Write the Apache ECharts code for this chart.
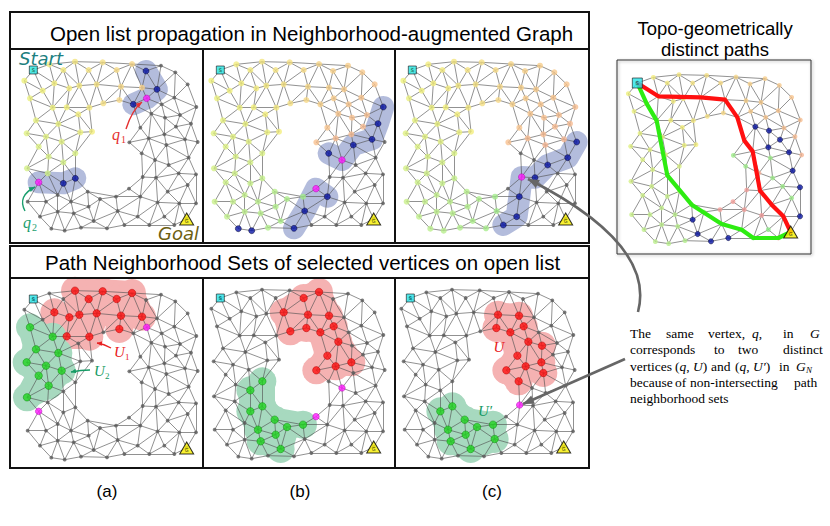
<!DOCTYPE html>
<html>
<head>
<meta charset="utf-8">
<script src="https://cdn.jsdelivr.net/npm/echarts/dist/echarts.min.js"></script>
<style>
  html, body { margin: 0; background: #fff; }
  #chart { width: 830px; height: 526px; }
</style>
</head>
<body>
<div id="chart"></div>
<script>
// vertices of the graph G (panel units, x right / y down)
const nodePos = [
  [70,75],[118,58],[160,75],[195,50],[236,75],[278,52],[320,75],[366,57],[408,78],[453,62],
  [496,82],[533,118],[43,107],[98,137],[133,115],[178,130],[208,122],[260,118],[333,125],[396,128],
  [441,133],[493,158],[60,160],[128,188],[170,187],[238,188],[280,175],[328,165],[370,178],[410,160],
  [455,178],[559,186],[205,208],[78,226],[145,237],[246,260],[211,262],[50,265],[108,275],[155,290],
  [424,206],[465,218],[510,210],[543,236],[391,248],[498,245],[463,268],[416,280],[358,292],[525,283],
  [469,300],[196,325],[86,305],[116,335],[160,352],[51,370],[113,385],[86,412],[160,415],[196,400],
  [395,325],[435,345],[476,360],[536,338],[506,385],[558,388],[438,398],[357,431],[533,420],[473,440],
  [233,440],[53,470],[108,470],[143,450],[183,470],[270,462],[318,455],[391,455],[90,515],[143,500],
  [191,505],[236,485],[323,498],[443,472],[508,475],[558,475],[383,515],[463,515],[124,551],[164,557],
  [213,548],[251,528],[291,550],[343,540],[418,540],[493,540],[530,522],[398,396],[563,291]
];
const startNode = 0;
const goalNode = 96;

// open list panels (top row): frontier vertices, selected vertices, blurred frontier bands, reached angle range
const frontierA = [8, 20, 28, 58, 59];
const pickedA = [29, 57];
const bandsA = [[28, 29, 20, 8], [57, 58, 59]];
const reachA = [-66, 68];

const frontierB = [60, 50, 49, 43, 31, 77, 82, 92, 88, 89];
const pickedB = [61, 67];
const bandsB = [[60, 61, 50, 49, 43, 31], [77, 67, 82, 92]];
const reachB = [-148, 115];

const frontierC = [98, 63, 62, 66, 77, 86, 93];
const pickedC = [97];
const bandsC = [[98, 63, 62, 66, 97, 77, 86, 93]];
const reachC = [-148, 123];

// path neighborhood sets (bottom row)
const redSetA = [3, 4, 5, 6, 7, 14, 15, 16, 17, 18, 19, 24, 25, 27];
const greenSetA = [22, 23, 33, 34, 37, 38, 39, 52, 53, 55];
const redSetB = [6, 7, 17, 18, 19, 26, 27, 28, 29, 40, 44, 47, 46, 48];
const greenSetB = [51, 54, 58, 59, 70, 74, 81, 80, 91, 75, 76];
const redSetC = [18, 19, 27, 28, 29, 40, 41, 44, 47, 46, 50, 48, 60];
const greenSetC = [58, 59, 70, 74, 81, 80, 91, 75, 76, 82];

// right panel: two distinct paths
const redPath = [0, 14, 17, 18, 28, 44, 47, 66, 69, 84, 96];
const greenPath = [0, 13, 23, 54, 70, 82, 86, 94, 95, 96];
const frontierR = [40, 41, 45, 46, 49, 63, 65, 85, 81, 91, 92, 93];
const greenR = [48, 60, 50, 62, 64, 68];
const pinkR = [67, 76, 77, 97];

const SANS = "'Liberation Sans', Arial, sans-serif";
const SERIF = "'Liberation Serif', 'Times New Roman', serif";
const DEJA = "'DejaVu Sans', sans-serif";

// Delaunay triangulation of the vertices, long edges dropped (the hole and the hull)
function triangulate(pts, maxLen) {
  const P = pts.slice();
  const n = P.length;
  P.push([-3000, -3000], [3000, -3000], [0, 3000]);
  let tris = [[n, n + 1, n + 2]];
  const inCirc = (t, x, y) => {
    const [ax, ay] = P[t[0]], [bx, by] = P[t[1]], [cx, cy] = P[t[2]];
    const d = 2 * (ax * (by - cy) + bx * (cy - ay) + cx * (ay - by));
    const a2 = ax * ax + ay * ay, b2 = bx * bx + by * by, c2 = cx * cx + cy * cy;
    const ux = (a2 * (by - cy) + b2 * (cy - ay) + c2 * (ay - by)) / d;
    const uy = (a2 * (cx - bx) + b2 * (ax - cx) + c2 * (bx - ax)) / d;
    return (x - ux) ** 2 + (y - uy) ** 2 < (ax - ux) ** 2 + (ay - uy) ** 2;
  };
  for (let i = 0; i < n; i++) {
    const [x, y] = P[i];
    const bad = [], keep = [];
    tris.forEach(t => (inCirc(t, x, y) ? bad : keep).push(t));
    const cnt = {};
    bad.forEach(t => {
      [[t[0], t[1]], [t[1], t[2]], [t[2], t[0]]].forEach(([a, b]) => {
        const k = a < b ? a + ',' + b : b + ',' + a;
        cnt[k] = (cnt[k] || 0) + 1;
      });
    });
    tris = keep;
    Object.keys(cnt).forEach(k => {
      if (cnt[k] === 1) {
        const [a, b] = k.split(',').map(Number);
        tris.push([a, b, i]);
      }
    });
  }
  const seen = {}, out = [];
  tris.forEach(t => {
    [[t[0], t[1]], [t[1], t[2]], [t[2], t[0]]].forEach(([a, b]) => {
      if (a >= n || b >= n) return;
      const k = a < b ? a + ',' + b : b + ',' + a;
      if (seen[k]) return;
      seen[k] = true;
      const len = Math.hypot(P[a][0] - P[b][0], P[a][1] - P[b][1]);
      if (len <= maxLen) out.push([a, b]);
    });
  });
  return out;
}
const edges = triangulate(nodePos, 90);

// colour of a reached vertex: angle swept around the hole from the start
const hole = [300, 330];
const startAng = Math.atan2(nodePos[startNode][1] - hole[1], nodePos[startNode][0] - hole[0]);
function progress(i) {
  let a = (Math.atan2(nodePos[i][1] - hole[1], nodePos[i][0] - hole[0]) - startAng) * 180 / Math.PI;
  while (a > 180) a -= 360;
  while (a <= -180) a += 360;
  return a;
}
const ramp = ['#8ee88a', '#c2f08e', '#f2f07c', '#f7c48f', '#f29c9c'];
function rampColor(p) {
  return echarts.color.lerp(Math.max(0, Math.min(1, (p + 180) / 360)), ramp);
}

const panels = [
  { left: 10, top: 45, kind: 'open', frontier: frontierA, picked: pickedA, bands: bandsA, reach: reachA },
  { left: 197, top: 45, kind: 'open', frontier: frontierB, picked: pickedB, bands: bandsB, reach: reachB },
  { left: 389, top: 45, kind: 'open', frontier: frontierC, picked: pickedC, bands: bandsC, reach: reachC },
  { left: 10, top: 274, kind: 'sets', red: redSetA, green: greenSetA, picked: pickedA },
  { left: 197, top: 273, kind: 'sets', red: redSetB, green: greenSetB, picked: pickedB },
  { left: 387, top: 273, kind: 'sets', red: redSetC, green: greenSetC, picked: pickedC },
  { left: 614, top: 58, kind: 'paths', frontier: frontierR }
];

function dot(pos, size, color, border) {
  return { value: pos, symbolSize: size,
    itemStyle: { color: color, borderColor: border || color, borderWidth: border ? 0.6 : 0 } };
}
function nodeItem(pn, i) {
  const pos = nodePos[i];
  if (pn.kind === 'open') {
    if (pn.picked.includes(i)) return dot(pos, 6.5, '#ff1cff', '#b000b0');
    if (pn.frontier.includes(i)) return dot(pos, 6, '#0b18a8', '#000030');
    const p = progress(i);
    if (p >= pn.reach[0] && p <= pn.reach[1]) return dot(pos, 6, rampColor(p));
    return dot(pos, 3.8, '#5c5c5c');
  }
  if (pn.kind === 'sets') {
    if (pn.picked.includes(i)) return dot(pos, 6.5, '#ff1cff', '#b000b0');
    if (pn.red.includes(i)) return dot(pos, 7.5, '#ff1010', '#b00000');
    if (pn.green.includes(i)) return dot(pos, 7.5, '#22d422', '#0a8a0a');
    return dot(pos, 3.8, '#5c5c5c');
  }
  if (pn.frontier.includes(i)) return dot(pos, 5.2, '#0b18a8', '#000030');
  let p = progress(i);
  if (greenR.includes(i)) p = -150;
  if (pinkR.includes(i)) p = 170;
  return dot(pos, 4.8, rampColor(p));
}

const grid = [], xAxis = [], yAxis = [], series = [];
panels.forEach((pn, k) => {
  grid.push({ left: pn.left, top: pn.top, width: 195, height: 200 });
  xAxis.push({ gridIndex: k, type: 'value', min: 0, max: 585, show: false });
  yAxis.push({ gridIndex: k, type: 'value', min: 0, max: 600, inverse: true, show: false });
  const ax = { coordinateSystem: 'cartesian2d', xAxisIndex: k, yAxisIndex: k, silent: true };

  if (pn.kind === 'open') {
    pn.bands.forEach(b => {
      series.push(Object.assign({ type: 'lines', polyline: true, z: 1,
        data: [{ coords: b.map(i => nodePos[i]) }],
        lineStyle: { color: '#b3bcdc', width: 22, cap: 'round', join: 'round', opacity: 1 } }, ax));
    });
  } else if (pn.kind === 'sets') {
    [[pn.red, '#f5b2b2'], [pn.green, '#a7d9bf']].forEach(([set, col]) => {
      series.push(Object.assign({ type: 'lines', z: 1,
        data: edges.filter(([a, b]) => set.includes(a) && set.includes(b))
          .map(([a, b]) => ({ coords: [nodePos[a], nodePos[b]] })),
        lineStyle: { color: col, width: 24, cap: 'round', opacity: 1 } }, ax));
      series.push(Object.assign({ type: 'scatter', z: 1, symbolSize: 28,
        itemStyle: { color: col, opacity: 1 }, data: set.map(i => nodePos[i]) }, ax));
    });
  }

  series.push(Object.assign({ type: 'lines', z: 2,
    data: edges.map(([a, b]) => ({ coords: [nodePos[a], nodePos[b]] })),
    lineStyle: { color: '#505050', width: 0.7, opacity: 0.9 } }, ax));

  series.push(Object.assign({ type: 'scatter', z: 4,
    data: nodePos.map((p, i) => nodeItem(pn, i)) }, ax));

  if (pn.kind === 'paths') {
    [[greenPath, '#2eec12'], [redPath, '#ff1010']].forEach(([path, col]) => {
      series.push(Object.assign({ type: 'lines', polyline: true, z: 5,
        data: [{ coords: path.map(i => nodePos[i]) }],
        lineStyle: { color: col, width: 4.2, cap: 'round', join: 'round', opacity: 1 } }, ax));
    });
  }

  series.push(Object.assign({ type: 'scatter', z: 6, data: [
    { value: nodePos[startNode], symbol: 'rect', symbolSize: pn.kind === 'paths' ? 10 : 8,
      itemStyle: { color: '#27e4e8', borderColor: '#1a1a1a', borderWidth: 0.8 },
      label: { show: true, position: 'inside', formatter: 'S', fontSize: 5, color: '#000', fontFamily: DEJA } },
    { value: nodePos[goalNode], symbol: 'triangle', symbolSize: [14, 12],
      itemStyle: { color: '#f6ee00', borderColor: '#000', borderWidth: 1 },
      label: { show: true, position: 'inside', formatter: 'G', fontSize: 5, color: '#000', offset: [0, 1.5] } }
  ] }, ax));
});

// frames, titles and annotations
const els = [];
function line(x1, y1, x2, y2, w, c) {
  els.push({ type: 'line', z: 100, shape: { x1, y1, x2, y2 }, style: { stroke: c || '#111', lineWidth: w || 2 } });
}
function rect(x, y, w, h, lw, c) {
  els.push({ type: 'rect', z: 100, shape: { x, y, width: w, height: h }, style: { fill: 'none', stroke: c || '#111', lineWidth: lw || 2 } });
}
function text(x, y, t, font, fill, align, rich) {
  els.push({ type: 'text', z: 101, x, y,
    style: { text: t, font: font, fill: fill || '#000', align: align || 'left', verticalAlign: 'middle', rich: rich } });
}
function head(tip, from, color, len, half) {
  const dx = tip[0] - from[0], dy = tip[1] - from[1], L = Math.hypot(dx, dy);
  const ux = dx / L, uy = dy / L, bx = tip[0] - ux * len, by = tip[1] - uy * len;
  els.push({ type: 'polygon', z: 101,
    shape: { points: [tip, [bx - uy * half, by + ux * half], [bx + uy * half, by - ux * half]] },
    style: { fill: color } });
}
function curveArrow(p0, c, p1, color, w, len, half) {
  els.push({ type: 'bezierCurve', z: 101,
    shape: { x1: p0[0], y1: p0[1], cpx1: c[0], cpy1: c[1], x2: p1[0], y2: p1[1] },
    style: { stroke: color, lineWidth: w, fill: 'none' } });
  head(p1, c, color, len, half);
}

rect(10, 12, 579, 231);
line(10, 49, 589, 49);
line(203, 49, 203, 243);
line(395, 49, 395, 243);
rect(10, 246, 579, 222);
line(10, 278, 589, 278);
line(203, 278, 203, 468);
line(395, 278, 395, 468);

text(50, 33, 'Open list propagation in Neighborhood-augmented Graph', "20.5px " + SANS);
text(45, 262, 'Path Neighborhood Sets of selected vertices on open list', "20.5px " + SANS);
text(107, 491, '(a)', "17px " + SANS, '#000', 'center');
text(300, 491, '(b)', "17px " + SANS, '#000', 'center');
text(492, 491, '(c)', "17px " + SANS, '#000', 'center');
text(715, 28, 'Topo-geometrically', "18.5px " + SANS, '#000', 'center');
text(715, 49, 'distinct paths', "18.5px " + SANS, '#000', 'center');

els.push({ type: 'rect', z: 99, shape: { x: 617, y: 60, width: 194, height: 194 },
  style: { fill: 'none', stroke: '#333', lineWidth: 1, shadowBlur: 3, shadowColor: 'rgba(0,0,0,0.35)', shadowOffsetX: 1, shadowOffsetY: 1 } });

// panel (a) labels
text(19, 58, 'Start', "italic 18px " + DEJA, '#1d7f80');
text(158, 233, 'Goal', "italic 18px " + DEJA, '#6d5f12');
text(112, 134, 'q', "italic 16px " + SERIF, '#e53030');
text(121, 139, '1', "10px " + SERIF, '#e53030');
curveArrow([126, 129], [132, 110], [142, 102], '#e53030', 1.4, 6, 2.6);
text(23, 222, 'q', "italic 16px " + SERIF, '#1a9e6e');
text(32, 227, '2', "10px " + SERIF, '#1a9e6e');
curveArrow([25, 211], [17, 196], [35, 187], '#1a9e6e', 1.4, 6, 2.6);

text(114, 352, 'U', "italic 15px " + SERIF, '#e82020');
text(125, 357, '1', "9px " + SERIF, '#e82020');
curveArrow([111, 348], [104, 344], [97, 343], '#e82020', 1.4, 5, 2.4);
text(94, 371, 'U', "italic 15px " + SERIF, '#159a64');
text(105, 376, '2', "9px " + SERIF, '#159a64');
curveArrow([90, 370], [81, 370], [71, 372], '#159a64', 1.4, 5, 2.4);
text(499, 347, 'U', "italic 15px " + SERIF, '#e82020', 'center');
text(485, 411, 'U\u2032', "italic 15px " + SERIF, '#159a64', 'center');

// explanation arrows
curveArrow([638, 312], [656, 244], [528, 179], '#666', 2.6, 11, 4.5);
curveArrow([625, 359], [575, 381], [523, 404], '#666', 2.6, 11, 4.5);

// explanation text (justified by hand)
const pf = "13.5px " + SERIF;
const ri = { i: { fontStyle: 'italic', fontFamily: 'Liberation Serif', fontSize: 13.5, fill: '#000' } };
[['The', 630], ['same', 666], ['vertex,', 708], ['{i|q},', 752], ['in', 783], ['{i|G}', 810]]
  .forEach(([w, x]) => text(x, 333, w, pf, '#000', 'left', ri));
[['corresponds', 630], ['to', 714], ['two', 738], ['distinct', 783]]
  .forEach(([w, x]) => text(x, 349, w, pf, '#000', 'left', ri));
[['vertices', 630], ['({i|q}, {i|U})', 675], ['and', 711], ['({i|q}, {i|U\u2032})', 735], ['in', 779], ['{i|G}', 796]]
  .forEach(([w, x]) => text(x, 366, w, pf, '#000', 'left', ri));
text(806, 370, 'N', "italic 9px " + SERIF);
[['because', 630], ['of', 675], ['non-intersecting', 690], ['path', 794]]
  .forEach(([w, x]) => text(x, 382, w, pf, '#000', 'left', ri));
text(630, 398, 'neighborhood sets', pf);

const chart = echarts.init(document.getElementById('chart'), null, { renderer: 'svg' });
chart.setOption({
  animation: false,
  backgroundColor: '#fff',
  grid: grid,
  xAxis: xAxis,
  yAxis: yAxis,
  series: series,
  graphic: { elements: els }
});
</script>
</body>
</html>
